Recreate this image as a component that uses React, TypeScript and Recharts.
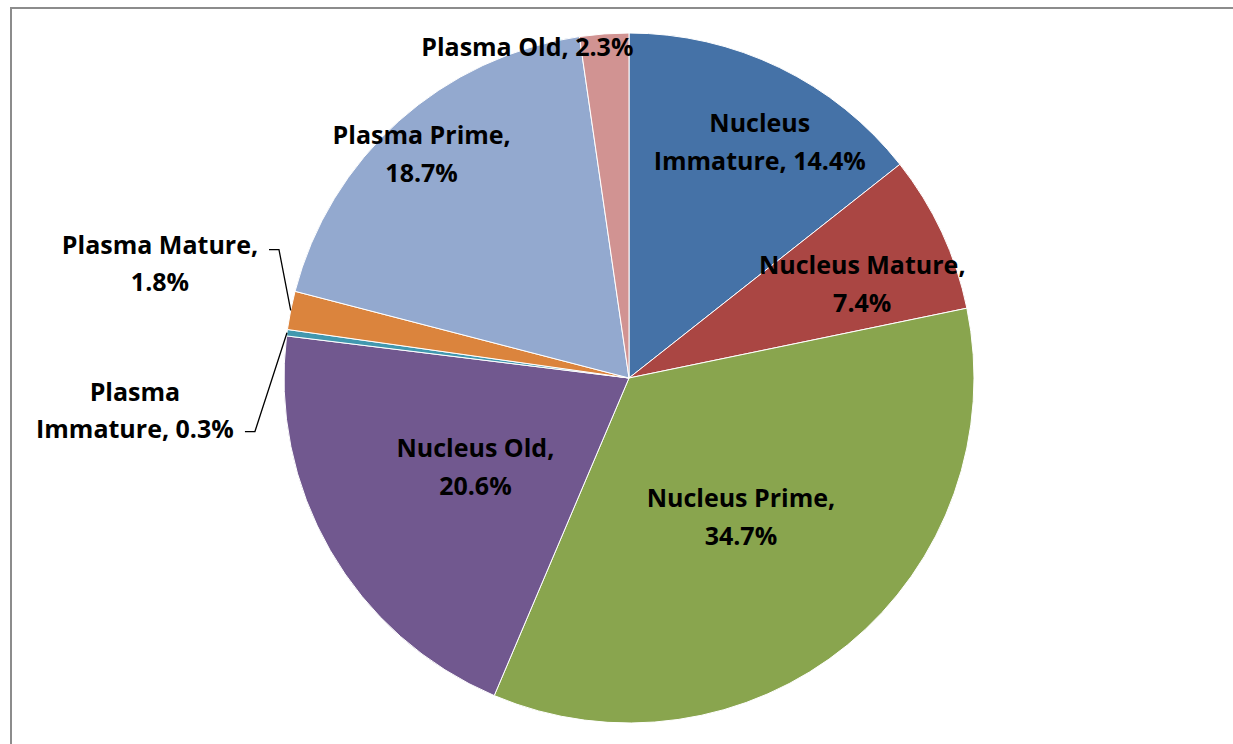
import { PieChart, Pie, Cell } from "recharts";

const categories = [
  "Nucleus Immature",
  "Nucleus Mature",
  "Nucleus Prime",
  "Nucleus Old",
  "Plasma Immature",
  "Plasma Mature",
  "Plasma Prime",
  "Plasma Old",
];
const shares = [14.4, 7.4, 34.7, 20.6, 0.3, 1.8, 18.7, 2.3];
const colors = [
  "#4572a7",
  "#aa4643",
  "#89a54e",
  "#71588f",
  "#4198af",
  "#db843d",
  "#93a9cf",
  "#d19392",
];
// words on the first line of each label (0 = single line)
const breakAfter = [1, 2, 2, 2, 1, 2, 2, 0];
// label centre: [fraction of radius, clockwise shift from slice middle in deg]
const placement: [number, number][] = [
  [0.785, 3.0],
  [0.73, 2.8],
  [0.515, 0.3],
  [0.513, 0.2],
  [1.435, -11.2],
  [1.4, 2.5],
  [0.887, -0.8],
  [1.006, -12.9],
];
// leader start relative to label centre (only for the outside labels)
const leaders: Record<number, [number, number]> = {
  4: [110, 22],
  5: [109, -13],
};

const data = categories.map((name, i) => ({ name, value: shares[i] }));

const RAD = Math.PI / 180;
const polar = (cx: number, cy: number, r: number, deg: number) => ({
  x: cx + r * Math.cos(-deg * RAD),
  y: cy + r * Math.sin(-deg * RAD),
});

const LINE = 37.5;

function renderLabel(props: any) {
  const { cx, cy, outerRadius, midAngle, index } = props;
  const [k, shift] = placement[index];
  const p = polar(cx, cy, outerRadius * k, midAngle - shift);
  const words = `${categories[index]}, ${shares[index]}%`.split(" ");
  const n = breakAfter[index];
  const lines = n ? [words.slice(0, n).join(" "), words.slice(n).join(" ")] : [words.join(" ")];
  const top = p.y - ((lines.length - 1) * LINE) / 2;
  const lead = leaders[index];
  let leader = null;
  if (lead) {
    const sx = p.x + lead[0];
    const sy = p.y + lead[1];
    const edge = polar(cx, cy, outerRadius, midAngle);
    leader = (
      <polyline
        points={`${sx},${sy} ${sx + 10},${sy} ${edge.x},${edge.y}`}
        fill="none"
        stroke="#000"
        strokeWidth={1.3}
      />
    );
  }
  return (
    <g key={`lbl-${index}`}>
      {leader}
      <text
        x={p.x}
        y={top}
        textAnchor="middle"
        dominantBaseline="central"
        fontFamily="'Open Sans', Lato, sans-serif"
        fontWeight={700}
        fontSize={25}
        fill="#000"
      >
        {lines.map((t, j) => (
          <tspan key={j} x={p.x} y={top + j * LINE}>
            {t}
          </tspan>
        ))}
      </text>
    </g>
  );
}

export default function App() {
  return (
    <>
      <style>{"body{overflow:hidden}"}</style>
      <div
        style={{
          position: "fixed",
          left: 10,
          top: 7,
          width: 1240,
          height: 740,
          boxSizing: "border-box",
          borderTop: "2px solid #8c8c8c",
          borderLeft: "2px solid #8c8c8c",
          background: "#fff",
        }}
      >
        <PieChart width={1236} height={738}>
          <Pie
            data={data}
            dataKey="value"
            nameKey="name"
            cx={612}
            cy={364}
            outerRadius={345}
            startAngle={90}
            endAngle={-270}
            stroke="#fff"
            strokeWidth={1}
            label={renderLabel}
            labelLine={false}
            isAnimationActive={false}
          >
            {data.map((d, i) => (
              <Cell key={d.name} fill={colors[i]} />
            ))}
          </Pie>
        </PieChart>
      </div>
    </>
  );
}
